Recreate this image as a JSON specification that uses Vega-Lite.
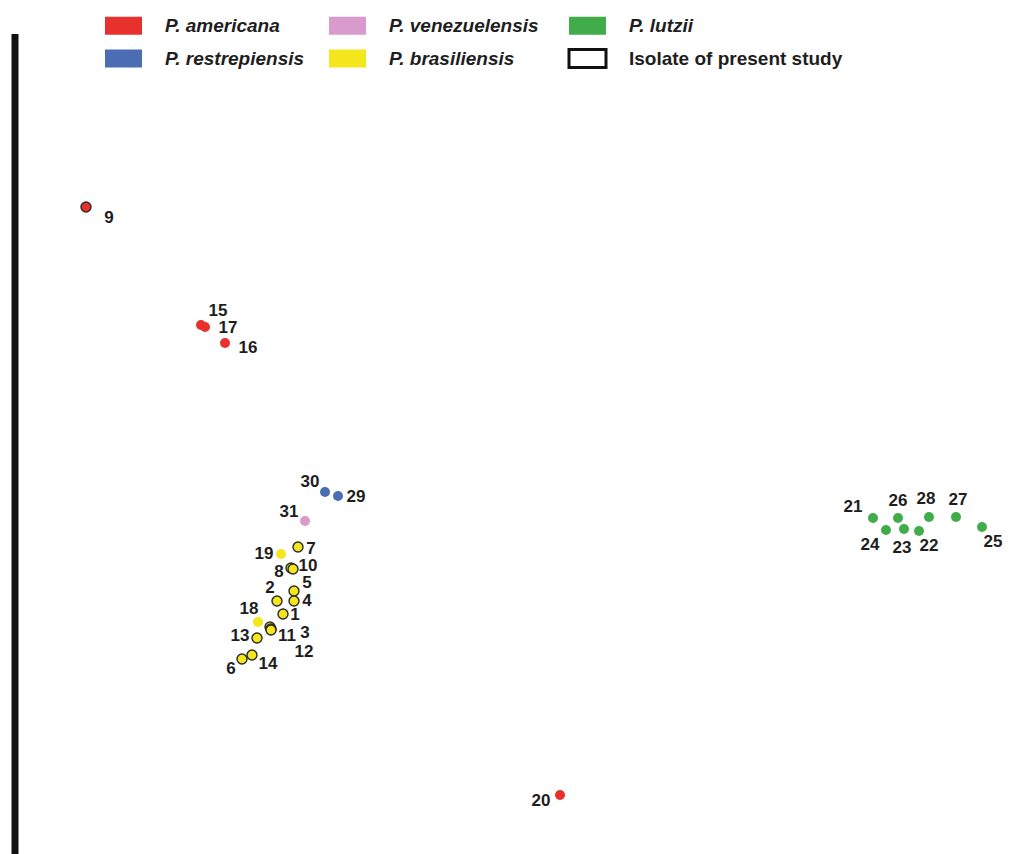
{
  "$schema": "https://vega.github.io/schema/vega-lite/v6.json",
  "width": 1020,
  "height": 854,
  "autosize": {"type": "none"},
  "padding": 0,
  "background": "white",
  "config": {"view": {"stroke": null}},
  "datasets": {
    "isolates": [
      {"id": "9", "species": "P. americana", "isolate": true, "pc1": 7.1, "pc2": 64.7, "label_pc1": 9.4, "label_pc2": 63.6},
      {"id": "15", "species": "P. americana", "isolate": false, "pc1": 18.6, "pc2": 52.9, "label_pc1": 20.3, "label_pc2": 54.3},
      {"id": "17", "species": "P. americana", "isolate": false, "pc1": 19.0, "pc2": 52.7, "label_pc1": 21.3, "label_pc2": 52.6},
      {"id": "16", "species": "P. americana", "isolate": false, "pc1": 21.0, "pc2": 51.1, "label_pc1": 23.3, "label_pc2": 50.6},
      {"id": "20", "species": "P. americana", "isolate": false, "pc1": 54.5, "pc2": 5.9, "label_pc1": 52.6, "label_pc2": 5.3},
      {"id": "29", "species": "P. restrepiensis", "isolate": false, "pc1": 32.3, "pc2": 35.8, "label_pc1": 34.1, "label_pc2": 35.7},
      {"id": "30", "species": "P. restrepiensis", "isolate": false, "pc1": 31.0, "pc2": 36.2, "label_pc1": 29.5, "label_pc2": 37.2},
      {"id": "31", "species": "P. venezuelensis", "isolate": false, "pc1": 29.0, "pc2": 33.3, "label_pc1": 27.4, "label_pc2": 34.2},
      {"id": "19", "species": "P. brasiliensis", "isolate": false, "pc1": 26.6, "pc2": 30.0, "label_pc1": 24.9, "label_pc2": 30.0},
      {"id": "7", "species": "P. brasiliensis", "isolate": true, "pc1": 28.3, "pc2": 30.7, "label_pc1": 29.6, "label_pc2": 30.5},
      {"id": "8", "species": "P. brasiliensis", "isolate": true, "pc1": 27.6, "pc2": 28.6, "label_pc1": 26.4, "label_pc2": 28.2},
      {"id": "10", "species": "P. brasiliensis", "isolate": true, "pc1": 27.8, "pc2": 28.5, "label_pc1": 29.3, "label_pc2": 28.8},
      {"id": "5", "species": "P. brasiliensis", "isolate": true, "pc1": 27.9, "pc2": 26.3, "label_pc1": 29.2, "label_pc2": 27.1},
      {"id": "2", "species": "P. brasiliensis", "isolate": true, "pc1": 26.2, "pc2": 25.3, "label_pc1": 25.5, "label_pc2": 26.6},
      {"id": "4", "species": "P. brasiliensis", "isolate": true, "pc1": 27.9, "pc2": 25.3, "label_pc1": 29.2, "label_pc2": 25.3},
      {"id": "1", "species": "P. brasiliensis", "isolate": true, "pc1": 26.8, "pc2": 24.0, "label_pc1": 28.0, "label_pc2": 23.9},
      {"id": "18", "species": "P. brasiliensis", "isolate": false, "pc1": 24.3, "pc2": 23.2, "label_pc1": 23.4, "label_pc2": 24.5},
      {"id": "11", "species": "P. brasiliensis", "isolate": true, "pc1": 25.5, "pc2": 22.7, "label_pc1": 27.2, "label_pc2": 21.8},
      {"id": "3", "species": "P. brasiliensis", "isolate": true, "pc1": 25.6, "pc2": 22.5, "label_pc1": 29.0, "label_pc2": 22.1},
      {"id": "12", "species": "P. brasiliensis", "isolate": true, "pc1": 25.6, "pc2": 22.4, "label_pc1": 28.9, "label_pc2": 20.2},
      {"id": "13", "species": "P. brasiliensis", "isolate": true, "pc1": 24.2, "pc2": 21.6, "label_pc1": 22.5, "label_pc2": 21.8},
      {"id": "6", "species": "P. brasiliensis", "isolate": true, "pc1": 22.7, "pc2": 19.5, "label_pc1": 21.6, "label_pc2": 18.5},
      {"id": "14", "species": "P. brasiliensis", "isolate": true, "pc1": 23.7, "pc2": 19.9, "label_pc1": 25.3, "label_pc2": 19.0},
      {"id": "21", "species": "P. lutzii", "isolate": false, "pc1": 85.8, "pc2": 33.6, "label_pc1": 83.8, "label_pc2": 34.7},
      {"id": "26", "species": "P. lutzii", "isolate": false, "pc1": 88.3, "pc2": 33.6, "label_pc1": 88.3, "label_pc2": 35.3},
      {"id": "28", "species": "P. lutzii", "isolate": false, "pc1": 91.4, "pc2": 33.7, "label_pc1": 91.1, "label_pc2": 35.5},
      {"id": "27", "species": "P. lutzii", "isolate": false, "pc1": 94.1, "pc2": 33.7, "label_pc1": 94.3, "label_pc2": 35.4},
      {"id": "25", "species": "P. lutzii", "isolate": false, "pc1": 96.7, "pc2": 32.7, "label_pc1": 97.8, "label_pc2": 31.2},
      {"id": "24", "species": "P. lutzii", "isolate": false, "pc1": 87.1, "pc2": 32.4, "label_pc1": 85.5, "label_pc2": 30.9},
      {"id": "23", "species": "P. lutzii", "isolate": false, "pc1": 88.9, "pc2": 32.5, "label_pc1": 88.7, "label_pc2": 30.6},
      {"id": "22", "species": "P. lutzii", "isolate": false, "pc1": 90.4, "pc2": 32.3, "label_pc1": 91.4, "label_pc2": 30.8}
    ]
  },
  "layer": [
    {
      "data": {"values": [{"pc1": 0, "top": 82.0, "bottom": 0}]},
      "mark": {"type": "rule", "color": "#111111", "strokeWidth": 7},
      "encoding": {
        "x": {"field": "pc1", "type": "quantitative", "scale": {"domain": [-1.5, 100.5], "nice": false, "zero": false}, "axis": null},
        "y": {"field": "top", "type": "quantitative", "scale": {"domain": [0, 85.4], "nice": false, "zero": false}, "axis": null},
        "y2": {"field": "bottom"}
      }
    },
    {
      "data": {"name": "isolates"},
      "mark": {"type": "point", "filled": true, "size": 100, "opacity": 1, "strokeWidth": 1.4},
      "encoding": {
        "x": {"field": "pc1", "type": "quantitative", "scale": {"domain": [-1.5, 100.5], "nice": false, "zero": false}, "axis": null},
        "y": {"field": "pc2", "type": "quantitative", "scale": {"domain": [0, 85.4], "nice": false, "zero": false}, "axis": null},
        "color": {
          "field": "species",
          "type": "nominal",
          "scale": {
            "domain": ["P. americana", "P. venezuelensis", "P. lutzii", "P. restrepiensis", "P. brasiliensis", "Isolate of present study"],
            "range": ["#e8302c", "#d99bcb", "#41ad4a", "#4b6db3", "#f3e61d", "#ffffff"]
          },
          "legend": {
            "title": null,
            "orient": "none",
            "legendX": 114,
            "legendY": 16,
            "direction": "horizontal",
            "columns": 3,
            "columnPadding": 24,
            "rowPadding": 7,
            "padding": 0,
            "symbolType": "M-1,-0.49H1V0.49H-1Z",
            "symbolSize": 1369,
            "symbolOpacity": 1,
            "symbolStrokeColor": {"expr": "datum.label === 'Isolate of present study' ? '#111111' : 'transparent'"},
            "symbolStrokeWidth": {"expr": "datum.label === 'Isolate of present study' ? 3 : 0"},
            "labelOffset": 32,
            "labelFont": "Liberation Sans",
            "labelFontSize": 19,
            "labelFontWeight": "bold",
            "labelFontStyle": {"expr": "datum.label === 'Isolate of present study' ? 'normal' : 'italic'"},
            "labelColor": "#1e1e1e",
            "labelLimit": 400
          }
        },
        "stroke": {
          "condition": {"test": "datum.isolate", "value": "#2a2a2a"},
          "value": "transparent"
        },
        "tooltip": [{"field": "id"}, {"field": "species"}]
      }
    },
    {
      "data": {"name": "isolates"},
      "mark": {"type": "text", "font": "Liberation Sans", "fontSize": 17, "fontWeight": "bold", "color": "#1e1e1e", "align": "center", "baseline": "middle"},
      "encoding": {
        "x": {"field": "label_pc1", "type": "quantitative", "scale": {"domain": [-1.5, 100.5], "nice": false, "zero": false}, "axis": null},
        "y": {"field": "label_pc2", "type": "quantitative", "scale": {"domain": [0, 85.4], "nice": false, "zero": false}, "axis": null},
        "text": {"field": "id"}
      }
    }
  ]
}
